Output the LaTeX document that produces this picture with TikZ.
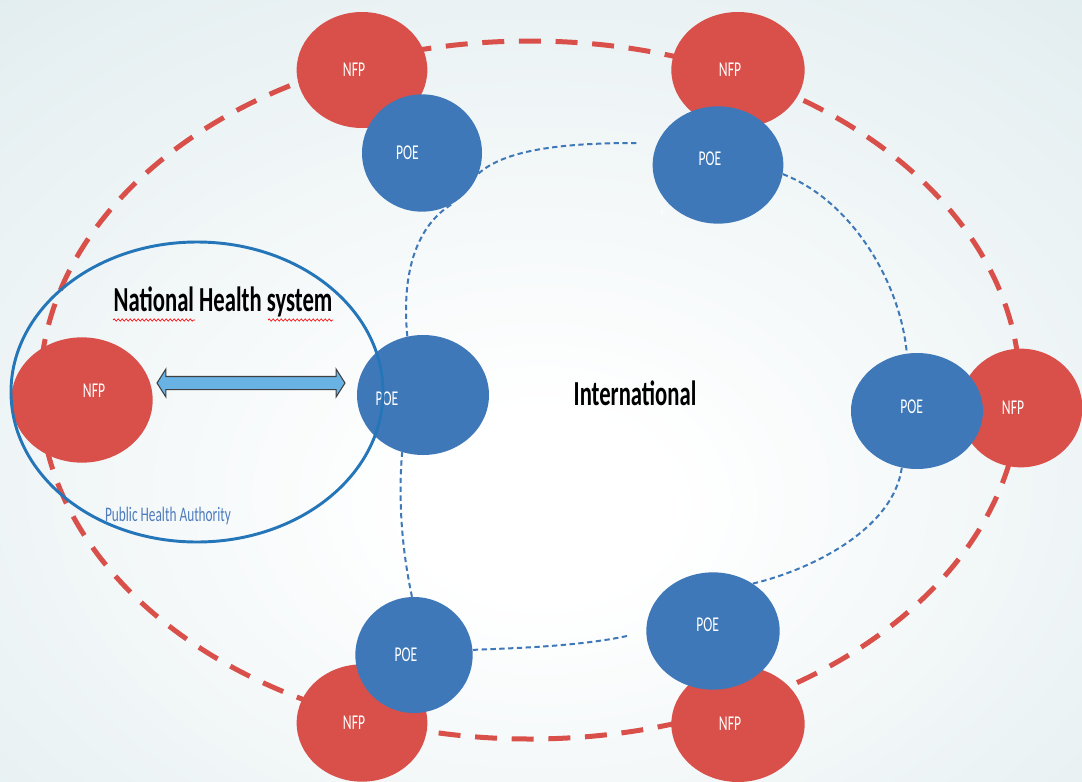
\documentclass[tikz,border=0pt]{standalone}
\usepackage{fontspec}
\setmainfont{Carlito}
\usetikzlibrary{shapes.geometric}
\usetikzlibrary{shapes.arrows}
\usetikzlibrary{decorations.pathmorphing}
\definecolor{nfpred}{RGB}{217,80,74}
\definecolor{poeblue}{RGB}{63,120,184}
\definecolor{ringblue}{RGB}{36,118,184}
\definecolor{arrowfill}{RGB}{104,178,228}
\definecolor{bgedge}{RGB}{215,230,233}
\definecolor{phablue}{RGB}{78,124,190}
\pgfdeclareradialshading{bgglow}{\pgfpoint{0bp}{-8bp}}{color(0bp)=(white); color(6bp)=(white); color(52bp)=(bgedge); color(80bp)=(bgedge)}
\pgfdeclarelayer{bg}
\pgfdeclarelayer{back}
\pgfsetlayers{bg,back,main}
\newcommand{\tall}[1]{\scalebox{1}[1.55]{#1}}

\begin{document}
\begin{tikzpicture}[x=0.75pt,y=0.75pt,yscale=-1,xscale=1,
  nfp/.style={ellipse,fill=nfpred,inner sep=0pt},
  poe/.style={ellipse,fill=poeblue,inner sep=0pt},
  lbl/.style={text=white,font=\fontsize{10.2}{10}\selectfont,xshift=-6pt},
  link/.style={poeblue,line width=1.5pt,dash pattern=on 4pt off 2.6pt},
  ring/.style={nfpred,line width=3.75pt,dash pattern=on 16.5pt off 11pt},
  hsys/.style={ellipse,draw=ringblue,line width=2.2pt,inner sep=0pt},
  harrow/.style={double arrow,draw=black!75,fill=arrowfill,line width=0.8pt,inner xsep=0pt,inner ysep=4.5pt,double arrow head extend=5.5pt,double arrow tip angle=115,double arrow head indent=0pt},
  title/.style={font=\bfseries\fontsize{17}{17}\selectfont},
  squiggle/.style={red,line width=0.5pt,decorate,decoration={snake,amplitude=0.8pt,segment length=3pt}}]
\useasboundingbox (0,0) rectangle (1082,782);
\begin{pgfonlayer}{bg}
\shade[shading=bgglow] (0,0) rectangle (1082,782);
\end{pgfonlayer}

% focal points
\node[nfp,minimum width=98pt,minimum height=87pt,label={[lbl]center:\tall{NFP}}] (nfpA) at (362,70) {};
\node[nfp,minimum width=100pt,minimum height=87pt,label={[lbl]center:\tall{NFP}}] (nfpB) at (738,70) {};
\node[nfp,minimum width=106pt,minimum height=94pt,label={[lbl,xshift=15pt,yshift=7pt]center:\tall{NFP}}] (nfpC) at (82,400) {};
\node[nfp,minimum width=92pt,minimum height=89pt,label={[lbl]center:\tall{NFP}}] (nfpD) at (1021,408) {};
\node[nfp,minimum width=98pt,minimum height=88pt,label={[lbl]center:\tall{NFP}}] (nfpE) at (362,723) {};
\node[nfp,minimum width=100pt,minimum height=87pt,label={[lbl]center:\tall{NFP}}] (nfpF) at (738,724) {};

% points of entry
\node[poe,minimum width=90pt,minimum height=88pt,label={[lbl,xshift=-5pt]center:\tall{POE}}] (poeA) at (422,153) {};
\node[poe,minimum width=98pt,minimum height=88pt,label={[lbl,yshift=5pt]center:\tall{POE}}] (poeB) at (718,165) {};
\node[poe,minimum width=99pt,minimum height=90pt,label={[lbl,xshift=-21pt,yshift=-3pt]center:\tall{POE}}] (poeC) at (423,395) {};
\node[poe,minimum width=99pt,minimum height=87pt,label={[lbl,xshift=2pt,yshift=3pt]center:\tall{POE}}] (poeD) at (917,411) {};
\node[poe,minimum width=88pt,minimum height=87pt,label={[lbl]center:\tall{POE}}] (poeE) at (414,655) {};
\node[poe,minimum width=100pt,minimum height=88pt,label={[lbl,xshift=2pt,yshift=4.5pt]center:\tall{POE}}] (poeF) at (713,631) {};

\coordinate (gapB) at (637,143);
\coordinate (gapF) at (627,636);

\begin{pgfonlayer}{back}
\draw[ring] (530,390) ellipse [x radius=490, y radius=349];
\draw[link] (poeC.105) .. controls (401,270) and (418,225) .. (poeA.-60);
\draw[link] (poeA.-20) .. controls (505,150) and (560,143) .. (gapB);
\draw[link] (poeB.-8) .. controls (850,200) and (900,280) .. (poeD.100);
\draw[link] (poeD.-105) .. controls (893,530) and (810,570) .. (poeF.50);
\draw[link] (gapF) .. controls (580,646) and (520,648) .. (poeE.5);
\draw[link] (poeE.92) .. controls (402,550) and (398,500) .. (poeC.-110);
\end{pgfonlayer}

% national system
\node[hsys,minimum width=279pt,minimum height=225pt] (nhs) at (197,392) {};
\node[harrow,minimum height=141pt] (hlink) at (251,383) {};
\node[title] (nhsTitle) at (223,302) {\tall{National Health system}};
\draw[squiggle] (113,320) -- (195,320);
\draw[squiggle] (268,320) -- (333,320);
\node[font=\fontsize{10}{10}\selectfont,text=phablue] (pha) at (168,516) {\tall{Public Health Authority}};

\node[title] (intl) at (635,393) {\tall{International}};
\node[text=white,font=\fontsize{7}{7}\selectfont] (stray) at (663,213) {P};
\end{tikzpicture}
\end{document}
